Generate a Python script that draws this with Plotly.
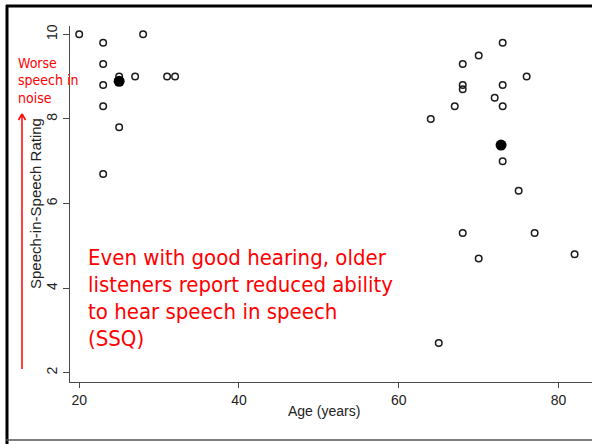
import plotly.graph_objects as go

# Speech-in-speech (SSQ) ratings by listener age
young_age = [20, 23, 28, 23, 25, 27, 31, 32, 23, 23, 25, 23]
young_rating = [10.0, 9.8, 10.0, 9.3, 9.0, 9.0, 9.0, 9.0, 8.8, 8.3, 7.8, 6.7]

old_age = [73, 70, 68, 76, 68, 68, 73, 72, 73, 67, 64, 73, 75, 68, 77, 70, 82, 65]
old_rating = [9.8, 9.5, 9.3, 9.0, 8.8, 8.7, 8.8, 8.5, 8.3, 8.3, 8.0, 7.0, 6.3,
              5.3, 5.3, 4.7, 4.8, 2.7]

# Group means (filled dots)
mean_age = [25.0, 72.8]
mean_rating = [8.89, 7.38]

x_ticks = [20, 40, 60, 80]
y_ticks = [2, 4, 6, 8, 10]

W, H = 592, 444
PLOT_L, PLOT_R, PLOT_T, PLOT_B = 70, 592, 26, 382


def px(x):
    # page pixel -> paper coordinate (paper spans the plot area)
    return (x - PLOT_L) / (PLOT_R - PLOT_L)


def py(y):
    return (PLOT_B - y) / (PLOT_B - PLOT_T)


RED = "#ff0000"
AXIS = "#4a4a4a"
TXT = "#222222"
SANS = "Liberation Sans, Arial, sans-serif"
NOTE = "DejaVu Sans Condensed, DejaVu Sans, sans-serif"

fig = go.Figure()
fig.add_trace(go.Scatter(
    x=young_age + old_age, y=young_rating + old_rating, mode="markers",
    marker=dict(symbol="circle-open", size=6.5, color="#1a1a1a",
                line=dict(width=1.5, color="#1a1a1a")),
    hoverinfo="x+y", showlegend=False))
fig.add_trace(go.Scatter(
    x=mean_age, y=mean_rating, mode="markers",
    marker=dict(symbol="circle", size=11, color="#000000"),
    hoverinfo="x+y", showlegend=False))

fig.update_layout(
    width=W, height=H,
    margin=dict(l=PLOT_L, r=W - PLOT_R, t=PLOT_T, b=H - PLOT_B, pad=0),
    paper_bgcolor="white", plot_bgcolor="white",
    xaxis=dict(range=[18.85, 84.18], tickvals=x_ticks, ticktext=[str(v) for v in x_ticks],
               showgrid=False, zeroline=False, showline=True, linecolor=AXIS, linewidth=1.2,
               ticks="outside", ticklen=5, tickwidth=1, tickcolor=AXIS,
               tickfont=dict(family=SANS, size=14, color=TXT)),
    yaxis=dict(range=[1.78, 10.196], tickvals=y_ticks, ticktext=[str(v) for v in y_ticks],
               tickangle=-90,
               showgrid=False, zeroline=False, showline=True, linecolor=AXIS, linewidth=1.2,
               ticks="outside", ticklen=6, tickwidth=1, tickcolor=AXIS,
               tickfont=dict(family=SANS, size=14, color=TXT)),
)

annotations = [
    dict(x=px(324), y=py(411), text="Age (years)", font=dict(family=SANS, size=14, color=TXT)),
    dict(x=px(35), y=py(204), text="Speech-in-Speech Rating", textangle=-90,
         font=dict(family=SANS, size=15, color=TXT)),
]

note_lines = ["Even with good hearing, older", "listeners report reduced ability",
              "to hear speech in speech", "(SSQ)"]
for i, line in enumerate(note_lines):
    annotations.append(dict(x=px(86), y=py(257 + 27.2 * i), text=line, xanchor="left",
                            font=dict(family=NOTE, size=22, color=RED)))

side_lines = ["Worse", "speech in", "noise"]
for i, line in enumerate(side_lines):
    annotations.append(dict(x=px(16), y=py(63 + 17.3 * i), text=line, xanchor="left",
                            font=dict(family=NOTE, size=14, color=RED)))

for a in annotations:
    a.update(xref="paper", yref="paper", showarrow=False)
    a.setdefault("xanchor", "center")
    a.setdefault("yanchor", "middle")
fig.update_layout(annotations=annotations)


def seg(x0, y0, x1, y1, color, width):
    return dict(type="line", xref="paper", yref="paper",
                x0=px(x0), y0=py(y0), x1=px(x1), y1=py(y1),
                line=dict(color=color, width=width))


shapes = [
    # red arrow pointing up
    seg(22, 369, 22, 114, RED, 1.5),
    seg(22, 114, 18.5, 120, RED, 1.5),
    seg(22, 114, 25.5, 120, RED, 1.5),
    # page frame
    seg(7, 5, 7, 444, "#000000", 3),
    seg(6, 6, 592, 6, "#000000", 3),
    seg(6, 440, 592, 440, "#555555", 1.5),
]
fig.update_layout(shapes=shapes)

fig.write_html("out.html")
